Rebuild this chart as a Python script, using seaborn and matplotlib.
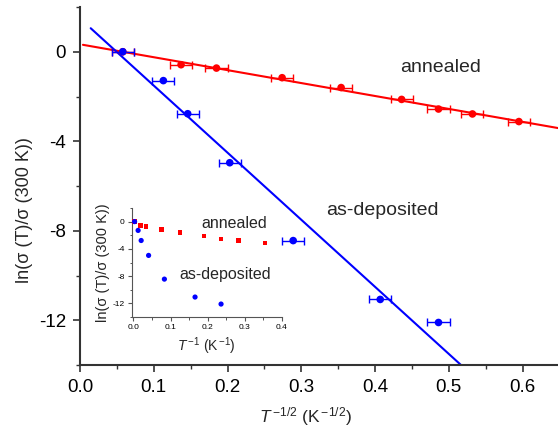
import numpy as np
import pandas as pd
import matplotlib
matplotlib.use("Agg")
import matplotlib.pyplot as plt
import seaborn as sns
from matplotlib.ticker import MultipleLocator

# ---- data ----
# main: x = T^-1/2 (K^-1/2), y = ln(sigma(T)/sigma(300K))
dep_x = [0.058, 0.113, 0.146, 0.203, 0.289, 0.407, 0.486]
dep_y = [0.0, -1.29, -2.77, -4.96, -8.44, -11.07, -12.10]
ann_x = [0.058, 0.137, 0.185, 0.274, 0.354, 0.436, 0.486, 0.532, 0.595]
ann_y = [0.0, -0.58, -0.73, -1.16, -1.60, -2.13, -2.56, -2.78, -3.12]
x_err = 0.015

# inset: x = T^-1 (K^-1)
ins_dep_x = [0.0033, 0.0128, 0.021, 0.041, 0.0835, 0.166, 0.236]
ins_dep_y = [0.0, -1.29, -2.77, -4.96, -8.44, -11.07, -12.10]
ins_ann_x = [0.0033, 0.019, 0.034, 0.075, 0.125, 0.190, 0.236, 0.283, 0.354]
ins_ann_y = [0.0, -0.58, -0.73, -1.16, -1.60, -2.13, -2.56, -2.78, -3.12]

main_xticks = [0.0, 0.1, 0.2, 0.3, 0.4, 0.5, 0.6]
main_yticks = [0, -4, -8, -12]
ins_xticks = [0.0, 0.1, 0.2, 0.3, 0.4]
ins_yticks = [0, -4, -8, -12]

RED = "#ff0000"
BLUE = "#0000ff"

sns.set_theme(style="ticks")
plt.rcParams["font.family"] = ["Liberation Sans", "DejaVu Sans"]
plt.rcParams["mathtext.fontset"] = "custom"
plt.rcParams["mathtext.rm"] = "Liberation Sans"
plt.rcParams["mathtext.it"] = "Liberation Sans:italic"
plt.rcParams["axes.edgecolor"] = "#333333"

fig = plt.figure(figsize=(5.58, 4.34), dpi=100)
ax = fig.add_axes([80/558, 1-365/434, 1-80/558, (365-7)/434])

dep = pd.DataFrame({"x": dep_x, "y": dep_y})
ann = pd.DataFrame({"x": ann_x, "y": ann_y})

# fit lines
pa = np.polyfit(ann["x"], ann["y"], 1)
pd_ = np.polyfit(dep["x"], dep["y"], 1)
fa = pd.DataFrame({"x": [0.004, 0.66]})
fa["y"] = np.polyval(pa, fa["x"])
fd = pd.DataFrame({"x": [0.0145, 0.56]})
fd["y"] = np.polyval(pd_, fd["x"])
sns.lineplot(data=fa, x="x", y="y", color=RED, lw=1.5, ax=ax, zorder=2)
sns.lineplot(data=fd, x="x", y="y", color=BLUE, lw=1.5, ax=ax, zorder=2)

ax.errorbar(ann["x"], ann["y"], xerr=x_err, fmt="none", ecolor=RED,
            elinewidth=1.0, capsize=2.6, capthick=1.0, zorder=3)
sns.scatterplot(data=ann, x="x", y="y", color=RED, s=30, edgecolor="none",
                ax=ax, zorder=4)
ax.errorbar(dep["x"], dep["y"], xerr=x_err, fmt="none", ecolor=BLUE,
            elinewidth=1.0, capsize=2.6, capthick=1.0, zorder=3)
sns.scatterplot(data=dep, x="x", y="y", color=BLUE, s=30, edgecolor="none",
                ax=ax, zorder=5)

ax.set_xlim(0, 0.648)
ax.set_ylim(-14, 2)
ax.set_xticks(main_xticks)
ax.set_xticklabels([f"{v:.1f}" for v in main_xticks])
ax.set_yticks(main_yticks)
ax.set_yticklabels([str(v) for v in main_yticks])
ax.xaxis.set_minor_locator(MultipleLocator(0.05))
ax.yaxis.set_minor_locator(MultipleLocator(2))
ax.tick_params(which="major", length=5, width=1.2, labelsize=13.5, pad=5,
               direction="out", colors="#333333", labelcolor="black")
ax.tick_params(which="minor", length=3, width=1.0, direction="out", colors="#333333")
for s in ["left", "bottom"]:
    ax.spines[s].set_linewidth(1.5)
sns.despine(ax=ax)
ax.set_xlabel(r"$T^{\,\mathregular{-1/2}}$ (K$^{\,\mathregular{-1/2}}$)", fontsize=12.5)
ax.xaxis.set_label_coords(0.471, -0.112)
ax.set_ylabel("ln(σ (T)/σ (300 K))", fontsize=13)
ax.yaxis.set_label_coords(-0.098, 0.433)

ax.text(0.489, -0.7, "annealed", fontsize=14, ha="center", va="center")
ax.text(0.41, -7.1, "as-deposited", fontsize=14, ha="center", va="center")

# ---- inset ----
ins = fig.add_axes([131.5/558, 1-317/434, (282-131.5)/558, (317-208)/434])
ins.patch.set_alpha(0)
ida = pd.DataFrame({"x": ins_ann_x, "y": ins_ann_y})
idd = pd.DataFrame({"x": ins_dep_x, "y": ins_dep_y})
sns.scatterplot(data=ida, x="x", y="y", color=RED, marker="s", s=11,
                edgecolor="none", ax=ins, zorder=3)
sns.scatterplot(data=idd, x="x", y="y", color=BLUE, marker="o", s=14,
                edgecolor="none", ax=ins, zorder=4)
ins.set_xlim(-0.005, 0.4)
ins.set_ylim(-14, 2)
ins.set_xticks(ins_xticks)
ins.set_xticklabels([f"{v:.1f}" for v in ins_xticks])
ins.set_yticks(ins_yticks)
ins.set_yticklabels([str(v) for v in ins_yticks])
ins.xaxis.set_minor_locator(MultipleLocator(0.05))
ins.yaxis.set_minor_locator(MultipleLocator(2))
ins.tick_params(which="major", length=3, width=0.8, labelsize=6, pad=2,
                direction="out", colors="#555555", labelcolor="black")
ins.tick_params(which="minor", length=1.8, width=0.7, direction="out", colors="#555555")
for s in ["left", "bottom"]:
    ins.spines[s].set_linewidth(0.8)
    ins.spines[s].set_color("#555555")
sns.despine(ax=ins)
ins.set_xlabel(r"$T^{\,\mathregular{-1}}$ (K$^{\,\mathregular{-1}}$)", fontsize=10, labelpad=3)
ins.set_ylabel("ln(σ (T)/σ (300 K))", fontsize=10.5, labelpad=2)
ins.text(0.272, -0.3, "annealed", fontsize=11.5, ha="center", va="center")
ins.text(0.248, -7.8, "as-deposited", fontsize=11.5, ha="center", va="center")

fig.savefig("out.png", dpi=100)
